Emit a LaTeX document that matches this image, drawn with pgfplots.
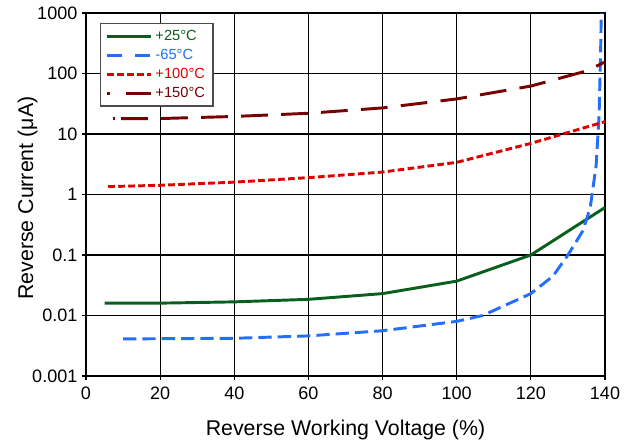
\documentclass[border=0pt]{standalone}
\usepackage{pgfplots}
\pgfplotsset{compat=1.18}
\usepackage{fontspec}
\setmainfont{Liberation Sans}
\definecolor{cgreen}{RGB}{10,95,30}
\definecolor{cblue}{RGB}{35,110,250}
\definecolor{cred}{RGB}{225,0,0}
\definecolor{cdark}{RGB}{120,0,0}
\pgfplotsset{
  bluelegend/.style={legend image code/.code={\draw[#1, dash pattern=on 11pt off 10pt] (0cm,0cm) -- (1.16cm,0cm);}},
  darklegend/.style={legend image code/.code={\draw[#1, solid] (0cm,0cm) -- (0.08cm,0cm); \draw[#1, solid] (0.5cm,0cm) -- (1.16cm,0cm);}},
}
\begin{document}
\begin{tikzpicture}
% canvas 635x445 px at 0.75pt/px
\path[use as bounding box] (0pt,0pt) rectangle (476.25pt,333.75pt);
\begin{axis}[
  at={(64.5pt,51.75pt)}, anchor=south west,
  scale only axis, width=389.25pt, height=272.25pt,
  xmin=0, xmax=140, ymin=0.001, ymax=1000,
  ymode=log,
  xtick={0,20,...,140},
  ytick={0.001,0.01,0.1,1,10,100,1000},
  yticklabels={0.001,0.01,0.1,1,10,100,1000},
  log basis y=10,
  minor y tick num=0,
  grid=major,
  major grid style={black, line width=0.9pt},
  axis line style={black, line width=1.4pt},
  tick align=outside, major tick length=3pt,
  tick style={black, line width=0.9pt},
  ytick pos=left, xtick pos=bottom,
  /pgf/number format/assume math mode=true,
  tick label style={font=\fontsize{13.5}{15}\selectfont},
  xticklabel style={yshift=-2pt},
  label style={font=\fontsize{16}{18}\selectfont},
  xlabel={Reverse Working Voltage (\%)},
  ylabel={Reverse Current (μA)},
  xlabel style={at={(axis description cs:0.5,-0.163)}, anchor=base},
  ylabel style={at={(axis description cs:-0.102,0.49)}, anchor=base},
  legend style={at={(0.027,0.972)}, anchor=north west, draw=black!70, line width=0.8pt,
    font=\fontsize{11}{12}\selectfont, inner xsep=4pt, inner ysep=3pt, row sep=1pt},
  legend cell align=left,
  legend image code/.code={\draw[#1] (0cm,0cm) -- (1.16cm,0cm);},
  every axis plot/.style={line width=2.2pt},
  clip=true,
]
\addplot[cgreen] coordinates {(5,0.016) (20,0.016) (40,0.0168) (60,0.0185) (80,0.023) (100,0.037) (120,0.1) (140,0.61)};
\addlegendentry{\textcolor{cgreen}{+25°C}}
\addplot[cblue, dash pattern=on 10pt off 4.5pt, bluelegend]
  coordinates {(10,0.0041) (40,0.0042) (60,0.0046) (80,0.0056) (100,0.008) (107,0.01) (120,0.023) (126,0.045) (130,0.1) (134,0.25) (136,0.6) (137.6,3) (138.4,20) (138.8,200) (139,1000) (139.1,2000)};
\addlegendentry{\textcolor{cblue}{-65°C}}
\addplot[cred, dash pattern=on 5pt off 2.5pt] coordinates {(6,1.35) (20,1.42) (40,1.6) (60,1.9) (80,2.35) (100,3.4) (120,7) (140,16)};
\addlegendentry{\textcolor{cred}{+100°C}}
\addplot[cdark, dash pattern=on 20pt off 10pt, darklegend]
  coordinates {(9.5,18) (20,18) (40,19.5) (60,22) (80,27) (100,38) (120,62) (135,110) (140,155)};
\addlegendentry{\textcolor{cdark}{+150°C}}
\addplot[cdark, forget plot] coordinates {(7.3,18) (7.9,18)};
\end{axis}
\end{tikzpicture}
\end{document}
